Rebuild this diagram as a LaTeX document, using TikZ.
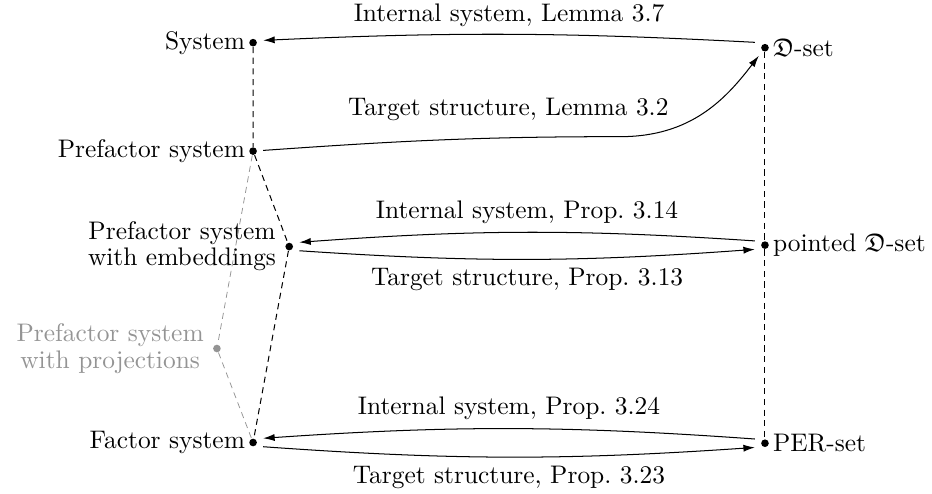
\documentclass[tikz,border=0pt]{standalone}
\usepackage{amssymb}
\usetikzlibrary{arrows.meta}

\begin{document}
\begin{tikzpicture}[
    dot/.style={circle, fill, inner sep=0pt, minimum size=3pt},
    lbl/.style={inner sep=1.3pt},
    conn/.style={-{Latex[length=4.5pt,width=2.8pt]}, shorten >=2.3pt, shorten <=2.3pt},
    dashline/.style={dash pattern=on 2.4pt off 1.8pt},
    faint/.style={black!42}
  ]
    \useasboundingbox (0,0) rectangle (12.89,6.83);

    % left column
    \node[dot, label={[lbl]left:System}] (sys) at (3.50,6.24) {};
    \node[dot, label={[lbl]left:Prefactor system}] (pfs) at (3.50,4.74) {};
    \node[dot, label={[lbl, align=center, label distance=2pt]left:Prefactor system\\[-1.8pt]with embeddings}] (emb) at (4.00,3.42) {};
    \node[dot, faint, label={[lbl, faint, align=center, label distance=2pt]left:Prefactor system\\[-1.2pt]with projections}] (proj) at (3.00,2.01) {};
    \node[dot, label={[lbl]left:Factor system}] (fac) at (3.50,0.71) {};

    % right column
    \node[dot, label={[lbl]right:$\mathfrak{D}$-set}] (dset) at (10.58,6.17) {};
    \node[dot, label={[lbl]right:pointed $\mathfrak{D}$-set}] (pds) at (10.58,3.44) {};
    \node[dot, label={[lbl]right:PER-set}] (per) at (10.58,0.70) {};

    \draw[dashline] (sys) -- (pfs) -- (emb) -- (fac);
    \draw[dashline] (dset) -- (pds) -- (per);
    \draw[dashline, faint, line width=0.3pt] (pfs) -- (proj) -- (fac);

    % top
    \draw[conn] ([yshift=2pt]dset.west) to[bend right=2.8] node[above=-0.5pt] {Internal system, Lemma 3.7} ([yshift=0.8pt]sys.east);
    \draw[conn] (pfs) to[out=4, in=180] (8.58,4.94) .. controls +(0.97,0) and +(-0.55,-0.72) .. (dset);
    \node (tslbl) at (7.03,5.31) {Target structure, Lemma 3.2};

    % middle
    \draw[conn] ([yshift=1.5pt]pds.west) to[bend right=4] node[above] {Internal system, Prop.~3.14} ([yshift=1.5pt]emb.east);
    \draw[conn] ([yshift=-1.5pt]emb.east) to[bend right=4] node[below] {Target structure, Prop.~3.13} ([yshift=-1.5pt]pds.west);

    % bottom
    \draw[conn] ([yshift=1.5pt]per.west) to[bend right=4] node[above] {Internal system, Prop.~3.24} ([yshift=1.5pt]fac.east);
    \draw[conn] ([yshift=-1.5pt]fac.east) to[bend right=4] node[below] {Target structure, Prop.~3.23} ([yshift=-1.5pt]per.west);

\end{tikzpicture}
\end{document}
